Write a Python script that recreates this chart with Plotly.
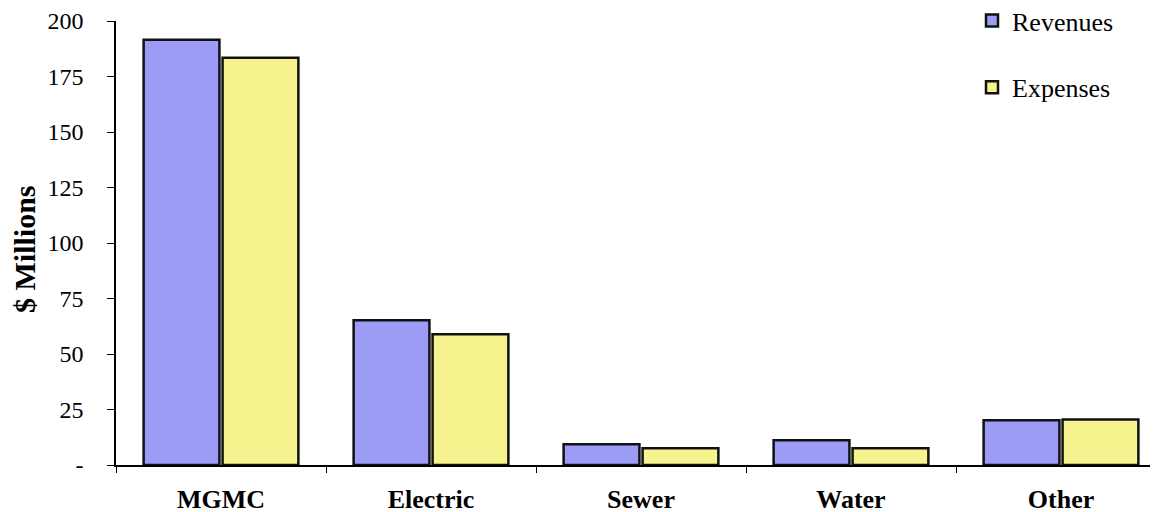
import plotly.graph_objects as go

categories = ["MGMC", "Electric", "Sewer", "Water", "Other"]
revenues = [191.5, 65.2, 9.4, 11.2, 20.2]
expenses = [183.5, 58.9, 7.5, 7.6, 20.5]
y_tickvals = [0, 25, 50, 75, 100, 125, 150, 175, 200]
y_ticktext = ["-", "25", "50", "75", "100", "125", "150", "175", "200"]

serif = "Liberation Serif, Times New Roman, serif"

fig = go.Figure()
fig.add_trace(go.Bar(
    x=categories, y=revenues, name="Revenues", legendgroup="r",
    marker=dict(color="#9c9cf6", line=dict(color="#111111", width=2.5)),
))
fig.add_trace(go.Bar(
    x=categories, y=expenses, name="Expenses", legendgroup="e",
    marker=dict(color="#f6f38e", line=dict(color="#111111", width=2.5)),
))

fig.update_layout(
    width=1158, height=512,
    margin=dict(l=108, r=0, t=13, b=55, autoexpand=False),
    paper_bgcolor="white", plot_bgcolor="white",
    barmode="group", bargap=0.248, bargroupgap=0.04,
    font=dict(family=serif, color="black", size=21),
    legend=dict(
        xref="container", yref="paper",
        x=964/1158, y=1 + 24/444, xanchor="left", yanchor="top",
        font=dict(family=serif, size=26, color="black"),
        tracegroupgap=30, bgcolor="rgba(0,0,0,0)", itemwidth=30,
    ),
    showlegend=True,
    annotations=[dict(
        text="<b>$ Millions</b>", textangle=-90,
        xref="paper", yref="paper", x=(16 - 108) / 1050, y=(457 - 241) / 444,
        xanchor="center", yanchor="middle", showarrow=False,
        font=dict(family=serif, size=30, color="black"),
    )],
)
fig.update_xaxes(
    range=[-0.5, 4.5],
    showline=True, linecolor="black", linewidth=1.5,
    ticks="outside", tickson="boundaries", ticklen=6, tickcolor="black",
    tickfont=dict(family=serif, size=26, color="black", weight="bold"),
    ticklabelstandoff=10, ticklabeloverflow="allow",
    showgrid=False, zeroline=False, automargin=False,
)
fig.update_yaxes(
    range=[0, 200],
    tickvals=y_tickvals, ticktext=y_ticktext,
    showline=True, linecolor="black", linewidth=1.5,
    ticks="outside", ticklen=7, tickcolor="black",
    tickfont=dict(family=serif, size=24, color="black"),
    ticklabelstandoff=19, ticklabeloverflow="allow",
    showgrid=False, zeroline=False, automargin=False,
)

fig.write_html("out.html")
